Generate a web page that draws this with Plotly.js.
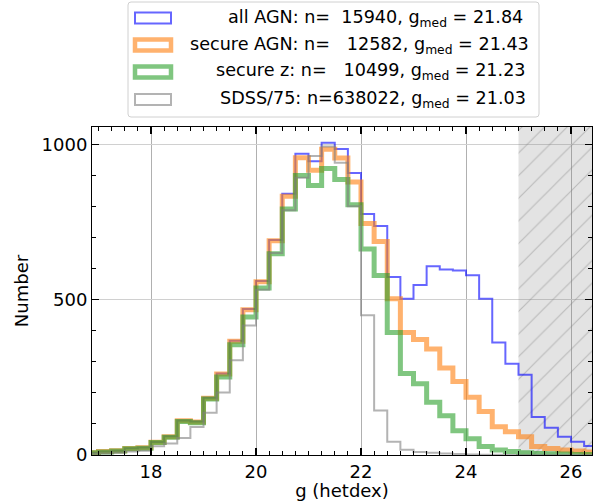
<!DOCTYPE html>
<html>
<head>
<meta charset="utf-8">
<script src="https://cdn.plot.ly/plotly-3.0.1.min.js"></script>
<style>html,body{margin:0;padding:0;background:#fff;}#chart{width:595px;height:501px;}</style>
</head>
<body>
<div id="chart"></div>
<script>
// ---- data (bin left edges in g mag, bin width 0.25) ----
const binLeft = [16.75, 17.00, 17.25, 17.50, 17.75, 18.00, 18.25, 18.50, 18.75, 19.00,
                 19.25, 19.50, 19.75, 20.00, 20.25, 20.50, 20.75, 21.00, 21.25, 21.50,
                 21.75, 22.00, 22.25, 22.50, 22.75, 23.00, 23.25, 23.50, 23.75, 24.00,
                 24.25, 24.50, 24.75, 25.00, 25.25, 25.50, 25.75, 26.00, 26.25];
const binWidth = 0.25;

const allAGN = [7, 11, 14, 22, 24, 42, 60, 111, 108, 184,
                262, 368, 470, 560, 692, 841, 970, 946, 1005, 985,
                908, 776, 737, 573, 503, 547, 608, 597, 594, 579,
                503, 362, 294, 258, 122, 88, 59, 43, 29];
const secureAGN = [7, 11, 14, 21, 23, 41, 59, 110, 106, 183,
                   261, 366, 468, 558, 690, 833, 957, 917, 984, 956,
                   879, 745, 687, 503, 394, 372, 341, 280, 237, 186,
                   140, 91, 75, 59, 27, 21, 16, 13, 10];
const secureZ = [7, 10, 13, 20, 22, 40, 57, 108, 104, 180,
                 251, 355, 444, 538, 648, 792, 900, 868, 922, 887,
                 806, 663, 578, 394, 262, 229, 170, 126, 78, 52,
                 27, 16, 11, 7, 5, 4, 3, 2, 2];
const sdss75 = [4, 5, 7, 11, 14, 28, 37, 55, 90, 136,
                201, 305, 417, 532, 650, 788, 893, 963, 993, 941,
                801, 450, 143, 43, 17, 10, 7, 5, 3, 2,
                1, 1, 0, 0, 0, 0, 0, 0, 0];

const seriesNames = ["all AGN", "secure AGN", "secure z", "SDSS/75"];
const seriesN = ["\u00a0\u00a015940", "\u00a0\u00a0\u00a012582", "\u00a0\u00a0\u00a010499", "638022"];
const seriesMed = ["21.84", "21.43", "21.23", "21.03"];
const limitMag = 25;

const xTickVals = [18, 20, 22, 24, 26];
const yTickVals = [0, 500, 1000];

// ---- styles ----
const colors = ["rgba(0,0,255,0.6)", "rgba(255,127,14,0.6)", "rgba(44,160,44,0.6)", "rgba(128,128,128,0.6)"];
const widths = [2, 5, 5, 2];
const FONT = "DejaVu Sans, sans-serif";

// plot-area pixel geometry (for legend placement)
const L = 92, R = 592, T = 127, B = 455;
const W = 595, H = 501;
const px = x => (x - L) / (R - L);
const py = y => (B - y) / (B - T);

function stepTrace(vals, i) {
  const xs = binLeft.concat([binLeft[binLeft.length - 1] + binWidth]);
  const ys = vals.concat([vals[vals.length - 1]]);
  return {
    type: "scatter", mode: "lines", x: xs, y: ys,
    line: {shape: "hv", color: colors[i], width: widths[i]},
    showlegend: false, hoverinfo: "skip"
  };
}

const shade = {
  type: "scatter", mode: "lines",
  x: [limitMag, 27, 27, limitMag, limitMag],
  y: [0, 0, 1100, 1100, 0],
  fill: "toself",
  fillcolor: "rgba(128,128,128,0.22)",
  fillpattern: {shape: "/", bgcolor: "rgba(128,128,128,0.22)", fgcolor: "rgba(128,128,128,0.42)", size: 16, solidity: 0.07},
  line: {width: 0, color: "rgba(0,0,0,0)"},
  showlegend: false, hoverinfo: "skip"
};

const data = [shade,
  stepTrace(allAGN, 0), stepTrace(secureAGN, 1), stepTrace(secureZ, 2), stepTrace(sdss75, 3)];

// ---- manual legend ----
const rowY = [18, 45, 72, 99.5];
const textRight = [525, 531, 528, 528];
const shapes = [];
const annotations = [];
(function(){
  const x0 = 128, x1 = 539, y0 = 2, y1 = 117, r = 3;
  const p = `M ${px(x0+r)},${py(y0)} L ${px(x1-r)},${py(y0)} Q ${px(x1)},${py(y0)} ${px(x1)},${py(y0+r)} ` +
            `L ${px(x1)},${py(y1-r)} Q ${px(x1)},${py(y1)} ${px(x1-r)},${py(y1)} ` +
            `L ${px(x0+r)},${py(y1)} Q ${px(x0)},${py(y1)} ${px(x0)},${py(y1-r)} ` +
            `L ${px(x0)},${py(y0+r)} Q ${px(x0)},${py(y0)} ${px(x0+r)},${py(y0)} Z`;
  shapes.push({type: "path", xref: "paper", yref: "paper", path: p,
               line: {color: "#d0d0d0", width: 1}, fillcolor: "rgba(255,255,255,0.8)"});
})();
for (let i = 0; i < 4; i++) {
  shapes.push({type: "rect", xref: "paper", yref: "paper",
    x0: px(135), x1: px(171), y0: py(rowY[i] - 5.5), y1: py(rowY[i] + 5.5),
    line: {color: colors[i], width: widths[i] - (i === 1 || i === 2 ? 0.5 : 0)}, fillcolor: "rgba(0,0,0,0)"});
  annotations.push({xref: "paper", yref: "paper", x: px(textRight[i]), y: py(rowY[i]),
    xanchor: "right", yanchor: "middle", showarrow: false,
    text: `${seriesNames[i]}: n=${seriesN[i]}, g<sub>med</sub>\u00a0=\u00a0${seriesMed[i]}`,
    font: {family: FONT, size: 17.6, color: "#000"}});
}

const layout = {
  width: W, height: H,
  margin: {l: L, r: W - R, t: T, b: H - B, pad: 0},
  paper_bgcolor: "#fff", plot_bgcolor: "#fff",
  font: {family: FONT, size: 18, color: "#000"},
  showlegend: false,
  xaxis: {
    range: [16.876, 26.4], tickvals: xTickVals, ticktext: xTickVals.map(String),
    ticks: "inside", ticklen: 7, tickwidth: 1.5, tickcolor: "#000",
    showline: true, linecolor: "#000", linewidth: 1, mirror: "ticks",
    showgrid: true, gridcolor: "#b0b0b0", gridwidth: 1, zeroline: false,
    minor: {dtick: 0.25, ticks: "inside", ticklen: 4, tickwidth: 1, tickcolor: "#000", showgrid: false},
    tickfont: {family: FONT, size: 18},
    title: {text: "g (hetdex)", font: {family: FONT, size: 18}, standoff: 4}
  },
  yaxis: {
    range: [0, 1056], tickvals: yTickVals, ticktext: yTickVals.map(String),
    ticks: "inside", ticklen: 7, tickwidth: 1.5, tickcolor: "#000",
    showline: true, linecolor: "#000", linewidth: 1, mirror: "ticks",
    showgrid: true, gridcolor: "#d0d0d0", gridwidth: 1, zeroline: false,
    minor: {dtick: 100, ticks: "inside", ticklen: 4, tickwidth: 1, tickcolor: "#000", showgrid: false},
    tickfont: {family: FONT, size: 18},
    title: {text: "Number", font: {family: FONT, size: 18}, standoff: 8}
  },
  shapes: shapes,
  annotations: annotations
};

Plotly.newPlot("chart", data, layout, {staticPlot: true, displayModeBar: false});
</script>
</body>
</html>
